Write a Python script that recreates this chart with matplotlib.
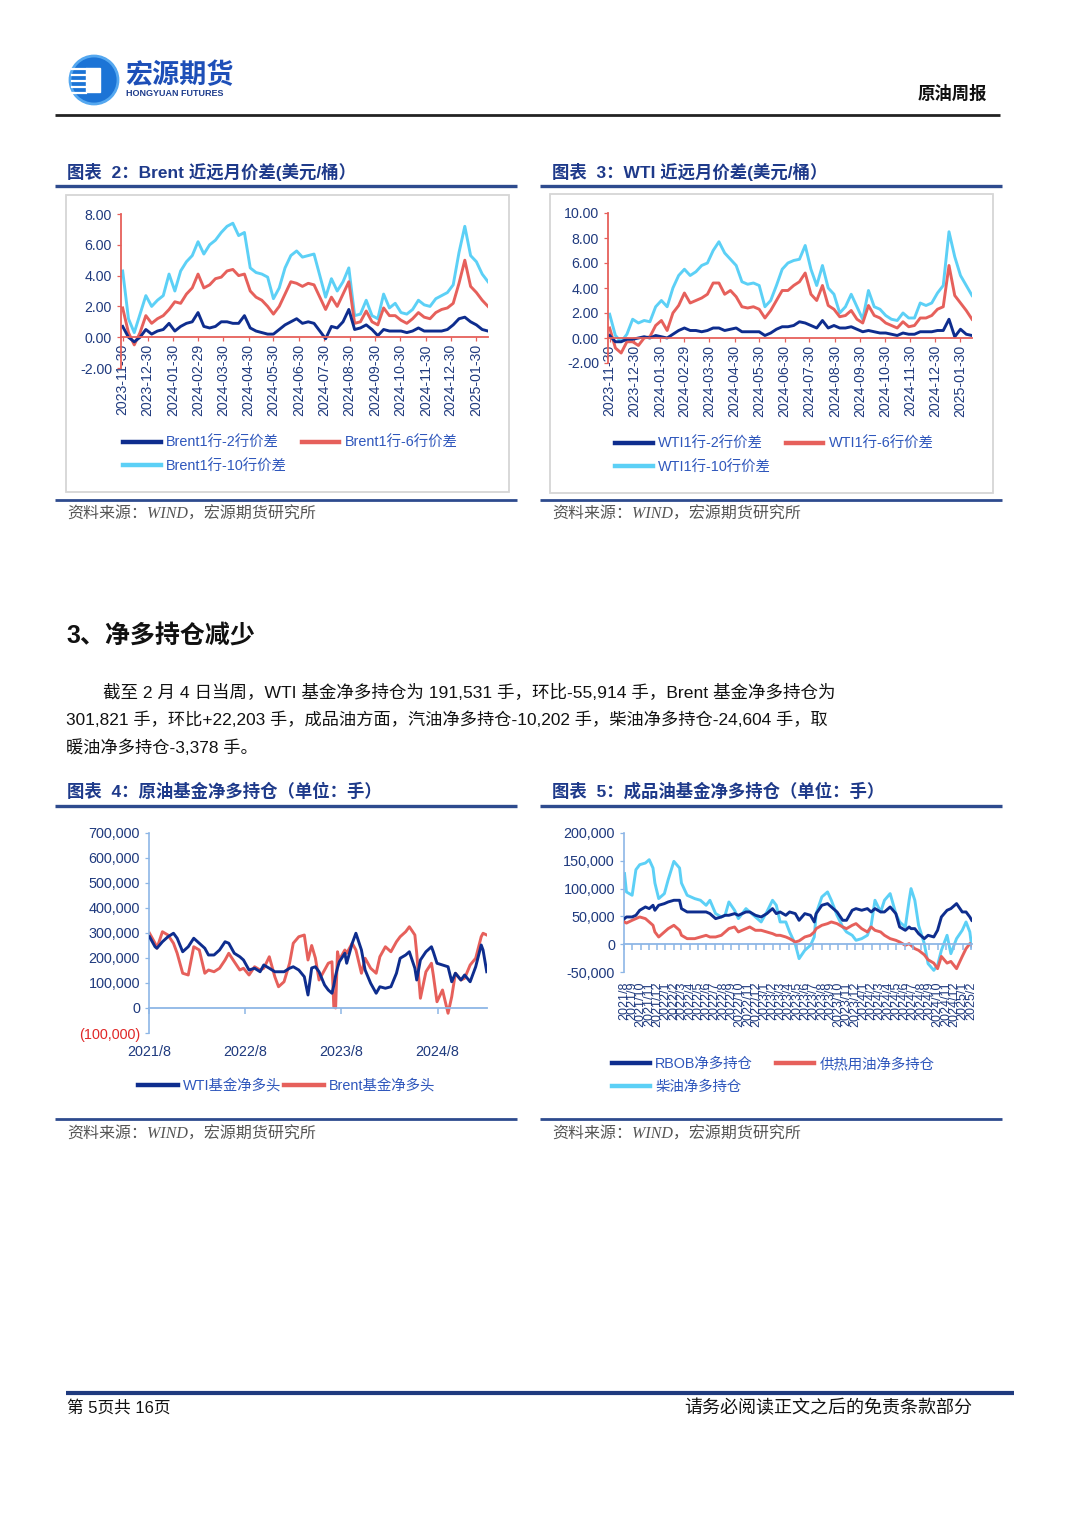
import numpy as np
import pandas as pd
import matplotlib
matplotlib.use('Agg')
import matplotlib.pyplot as plt
import matplotlib.dates as mdates
from matplotlib.patches import Circle, Rectangle

plt.rcParams['font.family'] = ['Liberation Sans', 'Noto Sans CJK SC']

W, H = 1080, 1527

NAVY = '#0E2D8E'
RED = '#E6605B'
CYAN = '#5CD0F6'
TICKTXT = '#1F3A7E'
LEGTXT = '#2F57BC'
TITLE = '#1E3A8A'
RULE = '#2E4B8E'
AXC = '#8DB6E6'

# ---------------- chart 2 / 3 : weekly spreads (USD/bbl) ----------------
spread_start = '2023-11-30'
spread_ticks = ['2023-11-30', '2023-12-30', '2024-01-30', '2024-02-29', '2024-03-30',
                '2024-04-30', '2024-05-30', '2024-06-30', '2024-07-30', '2024-08-30',
                '2024-09-30', '2024-10-30', '2024-11-30', '2024-12-30', '2025-01-30']

brent_1_2 = [0.7, 0.0, -0.3, 0.0, 0.5, 0.2, 0.4, 0.5, 0.9, 0.4, 0.7, 0.9, 1.0, 1.6, 0.7, 0.6,
             0.7, 1.0, 1.0, 0.9, 0.9, 1.4, 0.6, 0.4, 0.3, 0.2, 0.2, 0.5, 0.8, 1.0, 1.2, 0.9,
             1.0, 0.9, 0.4, -0.1, 0.7, 0.6, 1.0, 1.8, 0.5, 0.6, 0.8, 0.5, 0.1, 0.5, 0.4, 0.4,
             0.4, 0.3, 0.4, 0.6, 0.4, 0.4, 0.4, 0.4, 0.5, 0.8, 1.2, 1.3, 1.0, 0.8, 0.5, 0.4]
brent_1_6 = [1.9, 0.3, -0.5, 0.3, 1.4, 0.9, 1.2, 1.4, 1.8, 2.3, 2.2, 2.8, 3.2, 4.1, 3.2, 3.4,
             3.8, 3.9, 4.3, 4.4, 4.0, 4.1, 3.0, 2.6, 2.4, 2.0, 1.5, 2.0, 2.8, 3.6, 3.5, 3.3,
             3.5, 3.4, 2.6, 1.8, 2.6, 2.0, 2.8, 3.6, 0.9, 1.0, 1.7, 1.0, 0.8, 1.9, 1.4, 1.4,
             1.1, 0.9, 1.2, 1.6, 1.3, 1.2, 1.6, 1.8, 1.9, 2.2, 3.5, 5.0, 3.3, 2.9, 2.4, 2.0]
brent_1_10 = [4.3, 1.2, 0.3, 1.5, 2.7, 2.0, 2.4, 2.7, 4.1, 3.0, 4.3, 4.9, 5.3, 6.2, 5.4, 6.0,
              6.3, 6.8, 7.2, 7.4, 6.6, 6.8, 4.5, 4.2, 4.1, 3.9, 2.5, 3.2, 4.5, 5.3, 5.6, 5.2,
              5.3, 5.4, 4.0, 2.6, 3.8, 3.0, 3.6, 4.5, 1.4, 1.5, 2.4, 1.4, 1.2, 2.8, 1.9, 2.2,
              1.6, 1.5, 1.8, 2.4, 2.1, 2.0, 2.5, 2.7, 2.9, 3.4, 5.5, 7.2, 5.3, 4.9, 4.1, 3.6]

wti_1_2 = [0.2, -0.3, -0.3, -0.1, -0.1, 0.0, 0.1, 0.0, 0.2, 0.1, 0.0, 0.3, 0.6, 0.8, 0.6, 0.6,
           0.5, 0.6, 0.8, 0.8, 0.6, 0.7, 0.8, 0.5, 0.5, 0.5, 0.5, 0.2, 0.4, 0.7, 0.9, 0.9,
           1.0, 1.3, 1.2, 1.0, 0.8, 1.4, 0.8, 1.0, 0.8, 0.8, 0.9, 0.7, 0.5, 0.6, 0.5, 0.4,
           0.4, 0.3, 0.2, 0.4, 0.3, 0.3, 0.5, 0.5, 0.5, 0.6, 0.6, 1.5, 0.1, 0.7, 0.3, 0.2]
wti_1_6 = [0.8, -0.8, -1.2, -0.3, -0.3, -0.6, 0.0, 0.1, 1.0, 1.4, 0.6, 2.0, 2.6, 3.6, 2.8, 3.0,
           3.2, 3.5, 4.4, 4.4, 3.5, 3.8, 3.3, 2.5, 2.4, 2.5, 2.3, 1.6, 2.2, 3.0, 3.8, 3.8,
           4.2, 4.5, 5.2, 3.5, 3.0, 4.2, 2.6, 2.3, 1.7, 1.8, 2.2, 1.5, 1.2, 2.6, 1.8, 1.6,
           1.2, 1.0, 0.8, 1.3, 0.9, 1.0, 1.6, 1.6, 1.8, 2.3, 2.5, 5.8, 3.4, 2.8, 2.2, 1.5]
wti_1_10 = [1.9, 0.2, -0.3, 0.3, 1.5, 1.2, 1.4, 1.3, 2.5, 3.0, 2.5, 4.0, 5.0, 5.5, 5.0, 5.3,
            5.8, 6.0, 7.0, 7.7, 6.8, 6.3, 5.8, 4.5, 4.3, 4.4, 4.2, 2.5, 3.0, 4.2, 5.5, 6.0,
            6.2, 6.3, 7.4, 5.5, 4.2, 5.8, 4.0, 3.5, 2.0, 2.5, 3.5, 2.5, 1.5, 3.8, 2.5, 2.3,
            1.8, 1.5, 1.4, 2.0, 1.6, 1.6, 2.8, 2.6, 2.8, 3.6, 4.2, 8.5, 6.5, 5.0, 4.2, 3.4]

# ---------------- chart 4 : crude fund net long (weeks since 2021-08-03) ----------------
cot_start = '2021-08-03'
crude_weeks = [0, 3, 4, 7, 10, 13, 15, 18, 21, 24, 27, 30, 32, 35, 38, 41, 43, 46, 49, 51,
               54, 57, 60, 62, 65, 68, 70, 73, 76, 78, 81, 84, 86, 88, 90, 92, 95, 97, 99, 100,
               101, 102, 103, 106, 107, 110, 112, 115, 117, 120, 123, 125, 128, 131, 134, 136,
               139, 141, 144, 145, 147, 150, 153, 154, 156, 159, 162, 164, 166, 169, 171, 174,
               177, 180, 181, 183]
wti_net_k = [285, 245, 239, 265, 285, 299, 279, 225, 245, 279, 259, 239, 212, 212, 232, 265,
             259, 219, 205, 192, 152, 159, 145, 172, 159, 145, 145, 145, 159, 165, 152, 125,
             52, 160, 165, 145, 92, 72, 59, 90, 130, 160, 185, 219, 179, 259, 299, 232, 152,
             99, 59, 85, 79, 85, 139, 199, 212, 225, 159, 112, 192, 225, 245, 225, 179, 172,
             165, 105, 139, 112, 132, 105, 165, 252, 232, 145]
brent_net_k = [299, 259, 239, 305, 292, 259, 219, 139, 132, 245, 232, 139, 152, 145, 159, 192,
               219, 185, 152, 159, 132, 165, 152, 159, 205, 125, 85, 105, 179, 259, 285, 292,
               192, 250, 200, 112, 152, 179, 185, 5, 0, 225, 192, 232, 219, 259, 232, 139, 199,
               159, 139, 205, 245, 225, 265, 285, 305, 325, 292, 219, 39, 145, 179, 132, 25, 72,
               -21, 45, 139, 112, 119, 172, 199, 285, 299, 292]
crude_yticks_k = [-100, 0, 100, 200, 300, 400, 500, 600, 700]
crude_ylabels = ['(100,000)', '0', '100,000', '200,000', '300,000', '400,000', '500,000',
                 '600,000', '700,000']
crude_xticks = ['2021-08-01', '2022-08-01', '2023-08-01', '2024-08-01']
crude_xlabels = ['2021/8', '2022/8', '2023/8', '2024/8']

# ---------------- chart 5 : products fund net long ----------------
prod_weeks = [0, 1, 4, 6, 8, 11, 13, 15, 16, 18, 21, 23, 26, 29, 30, 33, 37, 40, 43, 45, 48,
              51, 53, 55, 58, 60, 64, 66, 69, 72, 75, 78, 80, 82, 85, 87, 90, 92, 95, 98, 100,
              101, 104, 107, 109, 112, 115, 117, 120, 122, 125, 128, 130, 132, 135, 137, 140,
              143, 145, 148, 150, 151, 153, 155, 158, 160, 163, 165, 167, 170, 172, 175, 178,
              180, 182, 183]
rbob_k = [46, 49, 49, 52, 61, 67, 64, 70, 61, 70, 73, 76, 79, 79, 64, 58, 58, 58, 58, 55, 46,
          49, 52, 52, 55, 52, 58, 58, 52, 49, 55, 64, 55, 58, 52, 58, 55, 43, 55, 52, 40, 55,
          70, 73, 67, 58, 43, 43, 61, 64, 61, 64, 58, 64, 58, 58, 67, 55, 31, 25, 31, 28, 28,
          19, 10, 16, 13, 25, 49, 61, 64, 73, 58, 58, 49, 43]
heating_k = [40, 38, 43, 46, 49, 46, 40, 34, 22, 13, 22, 28, 34, 25, 16, 10, 10, 13, 16, 13, 13,
             16, 22, 28, 31, 22, 28, 31, 25, 25, 22, 19, 16, 16, 13, 10, 4, 6, 13, 16, 22, 28,
             34, 37, 40, 37, 31, 28, 34, 37, 28, 22, 31, 25, 22, 16, 10, 7, 4, -2, 1, -2, -8,
             -11, -19, -28, -34, -44, -22, -34, -31, -44, -22, -8, 1, -2]
diesel_k = [127, 94, 88, 134, 143, 146, 152, 137, 110, 82, 91, 116, 149, 137, 110, 88, 82, 79,
            70, 79, 55, 49, 52, 76, 61, 46, 64, 58, 49, 40, 58, 79, 70, 40, 40, 22, 0, -26, -11,
            -2, 13, 55, 85, 94, 79, 52, 31, 22, 16, 7, 10, 16, 34, 79, 58, 79, 91, 55, 40, 31,
            79, 100, 79, 34, 1, -35, -47, -38, -11, 16, -17, 10, 25, 40, 22, -5]
prod_yticks_k = [-50, 0, 50, 100, 150, 200]
prod_ylabels = ['-50,000', '0', '50,000', '100,000', '150,000', '200,000']

fig = plt.figure(figsize=(W / 100, H / 100), dpi=100)
ov = fig.add_axes([0, 0, 1, 1])
ov.set_xlim(0, W)
ov.set_ylim(H, 0)
ov.axis('off')


def add_ax(l, t, r, b, **kw):
    return fig.add_axes([l / W, 1 - b / H, (r - l) / W, (b - t) / H], **kw)


def hline(x0, x1, y, color, lw):
    ov.plot([x0, x1], [y, y], color=color, lw=lw, solid_capstyle='butt')


def weekly(start, idx):
    d = pd.Timestamp(start) + pd.to_timedelta(np.asarray(idx) * 7, unit='D')
    return mdates.date2num(d.to_pydatetime())


def dnum(strs):
    return mdates.date2num(pd.to_datetime(strs).to_pydatetime())


def style_legend(leg):
    for txt in leg.get_texts():
        txt.set_color(LEGTXT)
    for ln in leg.get_lines():
        ln.set_linewidth(3.2)


SRC = '资料来源：WIND，宏源期货研究所'
SRC_FONT = ['Liberation Serif', 'Noto Sans CJK SC']

# ---------------- header ----------------
ov.add_patch(Circle((94, 80), 24, color='#1C74D6'))
ov.add_patch(Circle((94, 80), 24, color='#55A8F0', fill=False, lw=2))
for yy in [69, 75, 81, 87, 93]:
    ov.plot([72, 86], [yy, yy], color='white', lw=1.6)
ov.add_patch(Rectangle((86, 68), 14, 24, color='white'))
ov.text(125, 75, '宏源期货', fontsize=19.5, fontweight='bold', color='#1D4FB8', va='center',
        family=['Noto Sans CJK SC'])
ov.text(126, 94, 'HONGYUAN FUTURES', fontsize=6.5, fontweight='bold', color='#1D3C8C', va='center')
ov.text(987, 93, '原油周报', fontsize=12.5, fontweight='bold', color='#111111', ha='right', va='center')
hline(55, 1000, 115, '#222222', 2)

# ---------------- chart 2 & 3 ----------------
spread_x = weekly(spread_start, np.arange(len(brent_1_2)))


def spread_chart(rect, box, title, tx, s12, s16, s110, names, ylim, yticks, leg_xy, colsp):
    l, t, r, b = rect
    ax = add_ax(l, t, r, b)
    ax.patch.set_alpha(0)
    h110, = ax.plot(spread_x, s110, color=CYAN, lw=2.1)
    h16, = ax.plot(spread_x, s16, color=RED, lw=2.1)
    h12, = ax.plot(spread_x, s12, color=NAVY, lw=2.1)
    ax.set_ylim(*ylim)
    ax.set_xlim(dnum(['2023-11-28'])[0], dnum(['2025-02-13'])[0])
    for s in ['top', 'right']:
        ax.spines[s].set_visible(False)
    ax.spines['left'].set_color(RED)
    ax.spines['bottom'].set_color(RED)
    ax.spines['left'].set_linewidth(1.3)
    ax.spines['bottom'].set_linewidth(1.3)
    ax.spines['bottom'].set_position(('data', 0))
    ax.set_yticks(yticks)
    ax.set_yticklabels(['%.2f' % v for v in yticks])
    ax.set_xticks(dnum(spread_ticks))
    ax.set_xticklabels(spread_ticks, rotation=90)
    ax.tick_params(colors=TICKTXT, labelsize=10.2, length=3, width=0.9)
    ax.tick_params(color=RED)
    ax.tick_params(axis='x', pad=2)
    leg = ax.legend([h12, h110, h16], [names[0], names[2], names[1]], ncol=2, loc='upper left',
                    bbox_to_anchor=(leg_xy[0] / W, 1 - leg_xy[1] / H),
                    bbox_transform=fig.transFigure, frameon=False, fontsize=10.4,
                    handlelength=2.6, handletextpad=0.4, columnspacing=colsp,
                    labelspacing=0.65, borderpad=0, borderaxespad=0)
    style_legend(leg)
    bl, bt, br, bb = box
    ov.add_patch(Rectangle((bl, bt), br - bl, bb - bt, fill=False, ec='#D6D6D6', lw=1.3))
    ov.text(tx + 12, 172, title, fontsize=12.5, fontweight='bold', color=TITLE, va='center')
    hline(tx, tx + 462, 186, RULE, 2.4)
    hline(tx, tx + 462, 500, RULE, 2.0)
    ov.text(tx + 12, 515, SRC, fontsize=11.5, style='italic', color='#555555', va='center',
            family=SRC_FONT)
    return ax


spread_chart((121, 214, 488, 368), (66, 195, 509, 492), '图表  2：Brent 近远月价差(美元/桶）', 55,
             brent_1_2, brent_1_6, brent_1_10,
             ['Brent1行-2行价差', 'Brent1行-6行价差', 'Brent1行-10行价差'],
             (-2, 8), [-2, 0, 2, 4, 6, 8], (123, 436), 1.0)
spread_chart((608, 213, 972, 363), (550, 194, 993, 493), '图表  3：WTI 近远月价差(美元/桶）', 540,
             wti_1_2, wti_1_6, wti_1_10,
             ['WTI1行-2行价差', 'WTI1行-6行价差', 'WTI1行-10行价差'],
             (-2, 10), [-2, 0, 2, 4, 6, 8, 10], (615, 437), 1.0)

# ---------------- section text ----------------
ov.text(66, 636, '3、净多持仓减少', fontsize=18, fontweight='bold', color='#111111', va='center')
body = ['截至 2 月 4 日当周，WTI 基金净多持仓为 191,531 手，环比-55,914 手，Brent 基金净多持仓为',
        '301,821 手，环比+22,203 手，成品油方面，汽油净多持仓-10,202 手，柴油净多持仓-24,604 手，取',
        '暖油净多持仓-3,378 手。']
ov.text(103, 692, body[0], fontsize=12.6, color='#111111', va='center')
ov.text(66, 720, body[1], fontsize=12.4, color='#111111', va='center')
ov.text(66, 748, body[2], fontsize=12.4, color='#111111', va='center')


# ---------------- chart 4 & 5 ----------------
def cot_axes(rect, ylim):
    l, t, r, b = rect
    ax = add_ax(l, t, r, b)
    ax.patch.set_alpha(0)
    ax.set_ylim(*ylim)
    ax.set_xlim(dnum(['2021-08-01'])[0], dnum(['2025-02-05'])[0])
    for s in ['top', 'right', 'bottom']:
        ax.spines[s].set_visible(False)
    ax.spines['left'].set_color(AXC)
    ax.spines['left'].set_linewidth(1.2)
    zy = b - (0 - ylim[0]) / (ylim[1] - ylim[0]) * (b - t)
    zax = add_ax(l, zy - 1, r, zy, sharex=ax)
    zax.patch.set_alpha(0)
    for s in ['top', 'right', 'left']:
        zax.spines[s].set_visible(False)
    zax.spines['bottom'].set_color(AXC)
    zax.spines['bottom'].set_linewidth(1.3)
    zax.set_yticks([])
    zax.tick_params(axis='x', labelbottom=False, color=AXC, length=4, width=1.1)
    ax.tick_params(axis='y', colors=TICKTXT, labelsize=10.4, length=3, width=0.9)
    ax.tick_params(axis='y', color=AXC)
    return ax, zax


def cot_frame(tx, title):
    ov.text(tx + 12, 791, title, fontsize=12.5, fontweight='bold', color=TITLE, va='center')
    hline(tx, tx + 462, 806, RULE, 2.4)
    hline(tx, tx + 462, 1119, RULE, 2.0)
    ov.text(tx + 12, 1135, SRC, fontsize=11.5, style='italic', color='#555555', va='center',
            family=SRC_FONT)


# chart 4
ax4, z4 = cot_axes((149, 833, 487, 1033), (-100000, 700000))
crude_x = weekly(cot_start, crude_weeks)
h_wti, = ax4.plot(crude_x, np.array(wti_net_k) * 1000, color=NAVY, lw=2.1, zorder=3)
h_brent, = ax4.plot(crude_x, np.array(brent_net_k) * 1000, color=RED, lw=2.1, zorder=2)
ax4.set_yticks(np.array(crude_yticks_k) * 1000)
ax4.set_yticklabels(crude_ylabels)
ax4.get_yticklabels()[0].set_color('#E02828')
z4.set_xticks(dnum(crude_xticks))
ax4.set_xticks(dnum(crude_xticks))
ax4.set_xticklabels(crude_xlabels)
ax4.tick_params(axis='x', length=0, pad=9, colors=TICKTXT, labelsize=10.4)
leg4 = ax4.legend([h_wti, h_brent], ['WTI基金净多头', 'Brent基金净多头'], ncol=2, loc='upper left',
                  bbox_to_anchor=(138 / W, 1 - 1079 / H), bbox_transform=fig.transFigure,
                  frameon=False, fontsize=10.4, handlelength=2.8, handletextpad=0.3,
                  columnspacing=0.2, borderpad=0, borderaxespad=0)
style_legend(leg4)
cot_frame(55, '图表  4：原油基金净多持仓（单位：手）')

# chart 5
ax5, z5 = cot_axes((624, 833, 972, 972), (-50000, 200000))
prod_x = weekly(cot_start, prod_weeks)
h_die, = ax5.plot(prod_x, np.array(diesel_k) * 1000, color=CYAN, lw=2.1, zorder=2)
h_heat, = ax5.plot(prod_x, np.array(heating_k) * 1000, color=RED, lw=2.1, zorder=3)
h_rbob, = ax5.plot(prod_x, np.array(rbob_k) * 1000, color=NAVY, lw=2.1, zorder=4)
ax5.set_yticks(np.array(prod_yticks_k) * 1000)
ax5.set_yticklabels(prod_ylabels)
months = pd.date_range('2021-08-01', '2025-02-01', freq='MS')
month_labels = ['%d/%d' % (m.year, m.month) for m in months]
z5.set_xticks(mdates.date2num(months.to_pydatetime()))
ax5.set_xticks(mdates.date2num(months.to_pydatetime()))
ax5.set_xticklabels(month_labels, rotation=90)
ax5.tick_params(axis='x', length=0, pad=7, colors=TICKTXT, labelsize=9)
leg5 = ax5.legend([h_rbob, h_die, h_heat], ['RBOB净多持仓', '柴油净多持仓', '供热用油净多持仓'],
                  ncol=2, loc='upper left', bbox_to_anchor=(612 / W, 1 - 1057 / H),
                  bbox_transform=fig.transFigure, frameon=False, fontsize=10.4,
                  handlelength=2.6, handletextpad=0.4, columnspacing=1.6,
                  labelspacing=0.65, borderpad=0, borderaxespad=0)
style_legend(leg5)
cot_frame(540, '图表  5：成品油基金净多持仓（单位：手）')

# ---------------- footer ----------------
hline(66, 1014, 1393, '#1F3A7E', 3)
ov.text(67, 1408, '第 5页共 16页', fontsize=12, color='#111111', va='center')
ov.text(972, 1408, '请务必阅读正文之后的免责条款部分', fontsize=13, color='#111111', ha='right',
        va='center')

fig.savefig('out.png', dpi=100)
